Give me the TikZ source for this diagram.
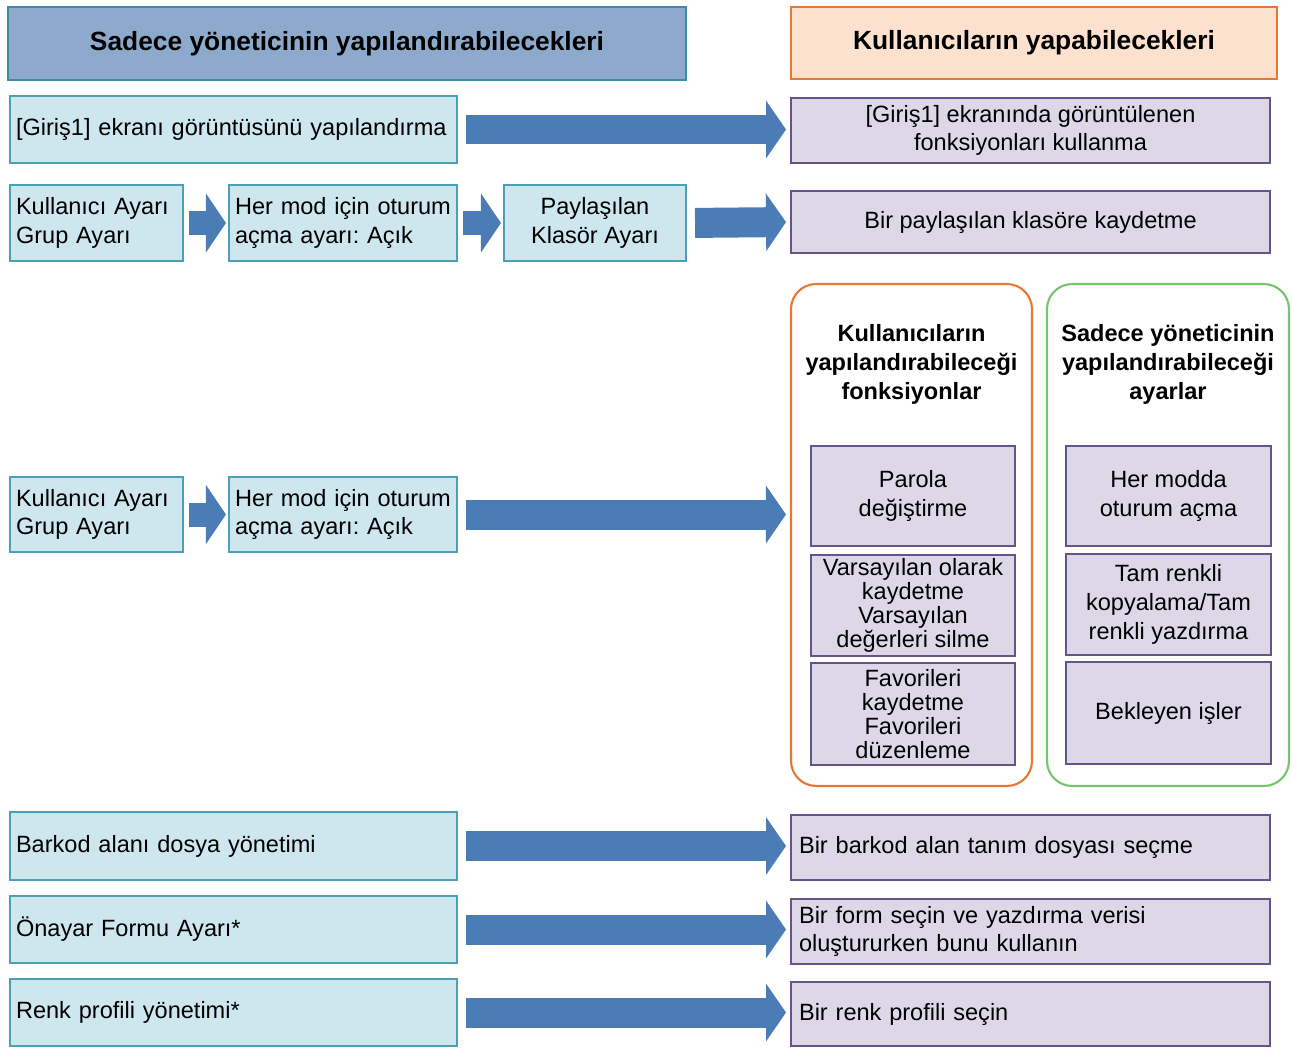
\documentclass[tikz,border=0pt]{standalone}
\usepackage{fontspec}
\setmainfont{Liberation Sans}
\usetikzlibrary{arrows.meta,calc}
\definecolor{hdrblue}{RGB}{141,170,204}
\definecolor{hdrline}{RGB}{62,140,160}
\definecolor{admfill}{RGB}{206,230,238}
\definecolor{admline}{RGB}{75,160,180}
\definecolor{usrfill}{RGB}{221,216,232}
\definecolor{usrline}{RGB}{100,84,135}
\definecolor{hdrpeach}{RGB}{251,225,206}
\definecolor{hdrorange}{RGB}{230,120,50}
\definecolor{grpgreen}{RGB}{120,195,110}
\definecolor{arrblue}{RGB}{76,124,182}
\newcommand{\fs}{\fontsize{13.4}{16.4}\selectfont}
\newcommand{\fst}{\fontsize{13.4}{13.6}\selectfont}

\begin{document}
\frenchspacing
\hyphenpenalty=10000
\exhyphenpenalty=10000
\begin{tikzpicture}[
  x=0.02cm, y=-0.02cm,
  box/.style = {line width=1.2pt, inner sep=0pt, font=\fs},
  hdr/.style = {box, draw=hdrline, fill=hdrblue, font=\fontsize{15}{18}\selectfont\bfseries},
  hdrU/.style = {box, draw=hdrorange, fill=hdrpeach, font=\fontsize{15}{18}\selectfont\bfseries},
  adm/.style = {box, draw=admline, fill=admfill, align=center},
  admL/.style = {box, draw=admline, fill=admfill, align=left, inner xsep=0.12cm},
  usr/.style = {box, draw=usrline, fill=usrfill, align=center},
  usrL/.style = {box, draw=usrline, fill=usrfill, align=left, inner xsep=0.16cm},
  grp/.style = {line width=1.2pt, rounded corners=0.5cm, minimum height=10.04cm},
  ttl/.style = {align=center, font=\fontsize{13.4}{16.7}\selectfont\bfseries},
  bigarr/.style = {draw=arrblue, line width=0.6cm,
                   -{Triangle[length=0.4cm,width=1.16cm,line width=0pt]},
                   shorten <=0.16cm, shorten >=0.08cm},
  smallarr/.style = {draw=arrblue, line width=0.48cm,
                     -{Triangle[length=0.4cm,width=1.18cm,line width=0pt]},
                     shorten <=0.1cm, shorten >=0.04cm}
]
\useasboundingbox (0,0) rectangle (1292,1048);

% headers
\node[hdr, minimum width=13.56cm, minimum height=1.46cm] (hAdm) at (347,43.5) {Sadece yöneticinin yapılandırabilecekleri};
\node[hdrU, minimum width=9.72cm, minimum height=1.44cm] (hUsr) at (1034,43) {Kullanıcıların yapabilecekleri};

% row 1
\node[admL, text width=8.70cm, minimum height=1.34cm] (admScreen) at (233.5,129.5) {[Giriş1] ekranı görüntüsünü yapılandırma};
\node[usr, minimum width=9.58cm, minimum height=1.3cm] (usrScreen) at (1030.5,130.5) {[Giriş1] ekranında görüntülenen\\fonksiyonları kullanma};

% row 2
\node[admL, text width=3.22cm, minimum height=1.52cm] (admUser) at (96.5,223) {Kullanıcı Ayarı\\Grup Ayarı};
\node[admL, text width=4.32cm, minimum height=1.52cm] (admLogin) at (343,223) {Her mod için oturum\\açma ayarı: Açık};
\node[adm, minimum width=3.64cm, minimum height=1.52cm] (admShare) at (595,223) {Paylaşılan\\Klasör Ayarı};
\node[usr, minimum width=9.58cm, minimum height=1.24cm] (usrShare) at (1030.5,222) {Bir paylaşılan klasöre kaydetme};

% row 3: two groups
\node[grp, draw=hdrorange, minimum width=4.82cm] (grpUsr) at (911.5,535) {};
\node[grp, draw=grpgreen, minimum width=4.84cm] (grpAdm) at (1168,535) {};
\node[ttl] (ttlUsr) at (911.5,364.5) {Kullanıcıların\\yapılandırabileceği\\fonksiyonlar};
\node[ttl] (ttlAdm) at (1168,364.5) {Sadece yöneticinin\\yapılandırabileceği\\ayarlar};

\node[usr, minimum width=4.08cm, minimum height=2.0cm] (fnPass) at (913,496) {Parola\\değiştirme};
\node[usr, minimum width=4.08cm, minimum height=2.02cm, font=\fst] (fnDef) at (913,605.5) {Varsayılan olarak\\kaydetme\\Varsayılan\\değerleri silme};
\node[usr, minimum width=4.08cm, minimum height=2.04cm, font=\fst] (fnFav) at (913,714) {Favorileri\\kaydetme\\Favorileri\\düzenleme};
\node[usr, minimum width=4.1cm, minimum height=2.0cm] (stLogin) at (1168.5,496) {Her modda\\oturum açma};
\node[usr, minimum width=4.1cm, minimum height=2.02cm] (stColor) at (1168.5,604.5) {Tam renkli\\kopyalama/Tam\\renkli yazdırma};
\node[usr, minimum width=4.1cm, minimum height=2.04cm] (stJobs) at (1168.5,713) {Bekleyen işler};

\node[admL, text width=3.22cm, minimum height=1.5cm] (admUser2) at (96.5,514.5) {Kullanıcı Ayarı\\Grup Ayarı};
\node[admL, text width=4.32cm, minimum height=1.5cm] (admLogin2) at (343,514.5) {Her mod için oturum\\açma ayarı: Açık};

% rows 4-6
\node[admL, text width=8.70cm, minimum height=1.36cm] (admBar) at (233.5,846) {Barkod alanı dosya yönetimi};
\node[usrL, text width=9.26cm, minimum height=1.3cm] (usrBar) at (1030.5,847.5) {Bir barkod alan tanım dosyası seçme};
\node[admL, text width=8.70cm, minimum height=1.34cm] (admForm) at (233.5,929.5) {Önayar Formu Ayarı*};
\node[usrL, text width=9.26cm, minimum height=1.3cm] (usrForm) at (1030.5,931.5) {Bir form seçin ve yazdırma verisi\\oluştururken bunu kullanın};
\node[admL, text width=8.70cm, minimum height=1.34cm] (admProf) at (233.5,1012.5) {Renk profili yönetimi*};
\node[usrL, text width=9.26cm, minimum height=1.28cm] (usrProf) at (1030.5,1014) {Bir renk profili seçin};

% block arrows
\draw[bigarr] (admScreen.east) -- (admScreen.east -| usrScreen.west);
\draw[smallarr] (admUser.east) -- (admLogin.west);
\draw[smallarr] (admLogin.east) -- (admShare.west);
\draw[bigarr] (admShare.east) -- (usrShare.west);
\draw[smallarr] (admUser2.east) -- (admLogin2.west);
\draw[bigarr] (admLogin2.east) -- (admLogin2.east -| grpUsr.west);
\draw[bigarr] (admBar.east) -- (admBar.east -| usrBar.west);
\draw[bigarr] (admForm.east) -- (admForm.east -| usrForm.west);
\draw[bigarr] (admProf.east) -- (admProf.east -| usrProf.west);

\end{tikzpicture}
\end{document}
